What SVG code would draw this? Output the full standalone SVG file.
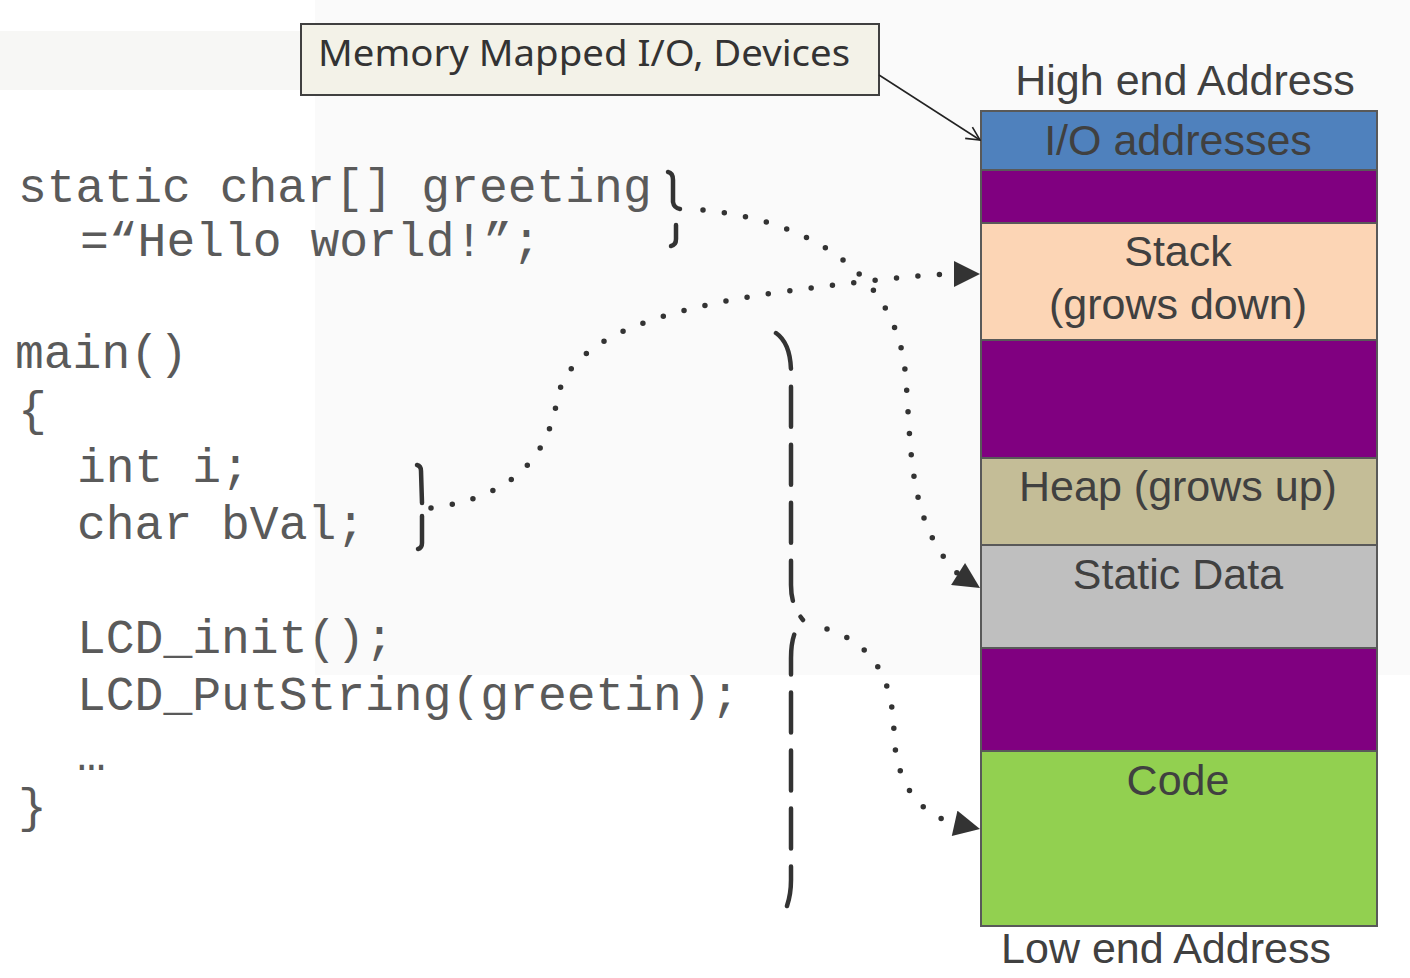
<svg xmlns="http://www.w3.org/2000/svg" width="1410" height="978" viewBox="0 0 1410 978">
<style>
.code{font-family:"Liberation Mono","Courier New",monospace;font-size:48px;fill:#5a5a5a}
.lbl{font-family:"Liberation Sans",Arial,sans-serif;font-size:43px;fill:#404040;text-anchor:middle}
.seg{stroke:#595959;stroke-width:2}
.dot{fill:none;stroke:#333;stroke-width:5.5;stroke-linecap:round;stroke-dasharray:0 21.5}
.brace{fill:none;stroke:#333;stroke-width:4.5;stroke-linecap:round;stroke-linejoin:round}
</style>
<defs>
<marker id="tri" viewBox="0 0 10 10" refX="10" refY="5" markerWidth="27" markerHeight="26" markerUnits="userSpaceOnUse" orient="auto">
<path d="M0,0 L10,5 L0,10 z" fill="#333"/>
</marker>
<marker id="open" viewBox="0 0 12 12" refX="11" refY="6" markerWidth="16" markerHeight="16" markerUnits="userSpaceOnUse" orient="auto">
<path d="M1,1 L11,6 L1,11" fill="none" stroke="#222" stroke-width="1.2"/>
</marker>
</defs>
<rect width="1410" height="978" fill="#ffffff"/>
<rect x="0" y="31" width="315" height="59" fill="#f7f7f5"/>
<rect x="315" y="0" width="1095" height="675" fill="#fafafa"/>

<g id="code">
<text class="code" x="18" y="202">static char[] greeting</text>
<text class="code" x="80" y="256">=“Hello world!”;</text>
<text class="code" x="15" y="368">main()</text>
<text class="code" x="18" y="425">{</text>
<text class="code" x="77" y="482">int i;</text>
<text class="code" x="77" y="539">char bVal;</text>
<text class="code" x="77" y="653">LCD_init();</text>
<text class="code" x="77" y="710">LCD_PutString(greetin);</text>
<text class="code" x="77" y="770">…</text>
<text class="code" x="18" y="822">}</text>
</g>

<g id="braces">
<path class="brace" d="M668,172 Q673,173 673,180 L673,202 Q674,208 680,209"/>
<path class="brace" d="M676,225 L676,239 Q676,245 671,246"/>
<path class="brace" d="M417,465 Q421,466 421,471 L422,503"/>
<path class="brace" d="M422,516 L422,543 Q422,548 418,549"/>
<path class="brace" d="M776,333 C786,340 791,355 791,372 L791,585 C791,600 795,610 803,620" stroke-dasharray="40 18"/>
<path class="brace" d="M787,906 C789,900 791,890 791,880 L791,658 C791,640 795,628 803,620" stroke-dasharray="40 18"/>
</g>

<g id="callout">
<rect x="301" y="24" width="578" height="71" fill="#f3f2e8" stroke="#404040" stroke-width="2"/>
<text x="318" y="66" font-family="'Noto Sans','Open Sans',sans-serif" font-size="36" fill="#333" textLength="532" lengthAdjust="spacingAndGlyphs">Memory Mapped I/O, Devices</text>
</g>

<g id="memory">
<text class="lbl" x="1185" y="95">High end Address</text>
<g id="io"><rect class="seg" x="981" y="111" width="396" height="59" fill="#4f81bd"/><text class="lbl" x="1178" y="155">I/O addresses</text></g>
<g id="gap1"><rect class="seg" x="981" y="170" width="396" height="53" fill="#800080"/></g>
<g id="stack"><rect class="seg" x="981" y="223" width="396" height="117" fill="#fcd5b5"/><text class="lbl" x="1178" y="266">Stack</text><text class="lbl" x="1178" y="319">(grows down)</text></g>
<g id="gap2"><rect class="seg" x="981" y="340" width="396" height="118" fill="#800080"/></g>
<g id="heap"><rect class="seg" x="981" y="458" width="396" height="87" fill="#c4bd97"/><text class="lbl" x="1178" y="501">Heap (grows up)</text></g>
<g id="static"><rect class="seg" x="981" y="545" width="396" height="103" fill="#bfbfbf"/><text class="lbl" x="1178" y="589">Static Data</text></g>
<g id="gap3"><rect class="seg" x="981" y="648" width="396" height="103" fill="#800080"/></g>
<g id="codeseg"><rect class="seg" x="981" y="751" width="396" height="175" fill="#92d050"/><text class="lbl" x="1178" y="795">Code</text></g>
<text class="lbl" x="1166" y="963">Low end Address</text>
</g>

<g id="connectors">
<line x1="879" y1="75" x2="980" y2="140" stroke="#222" stroke-width="1.5" marker-end="url(#open)"/>
<path class="dot" d="M703,210 C820,222 895,280 905,370 C912,440 905,520 958,574"/>
<path d="M958,574 L980,588" fill="none" stroke="none" marker-end="url(#tri)"/>
<path class="dot" d="M431,508 C515,497 548,455 557,400 C567,345 640,312 780,292 C850,283 910,275 955,274"/>
<path d="M955,274 L980,274" fill="none" stroke="none" marker-end="url(#tri)"/>
<path class="dot" d="M827,629 C875,645 893,680 894,734 C896,790 925,815 953,823"/>
<path d="M953,823 L980,829" fill="none" stroke="none" marker-end="url(#tri)"/>
</g>
</svg>
